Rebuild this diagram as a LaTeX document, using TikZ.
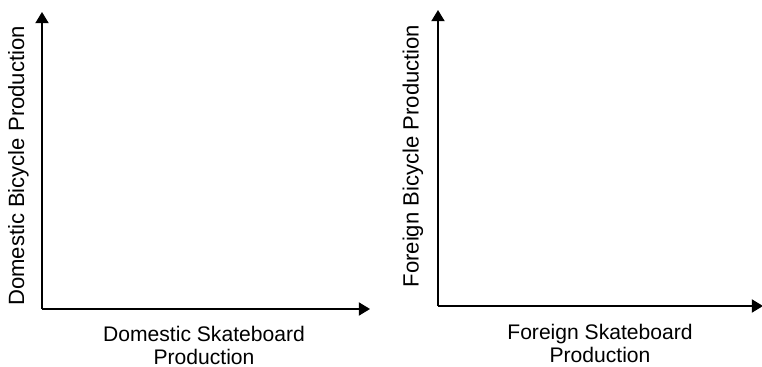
\documentclass[tikz,border=0pt]{standalone}
\usepackage{fontspec}
\setmainfont{Liberation Sans}
\usetikzlibrary{arrows}
\usetikzlibrary{arrows.meta}

\begin{document}
\begin{tikzpicture}[x=0.025cm,y=-0.025cm]
\tikzset{>={Triangle[width=3.3mm,length=2.8mm]}}
\tikzstyle{axis} =[->,line width=1pt]
\tikzstyle{lab} =[font=\fontsize{15}{16.5}\selectfont,align=center,inner sep=0pt]
\tikzstyle{vlab} =[font=\fontsize{15.7}{17}\selectfont,rotate=90,inner sep=0pt]

\useasboundingbox (0,0) rectangle (762,367);

% domestic
\coordinate (o1) at (42,309);
\coordinate (y1) at (42,12);
\coordinate (x1) at (370,309);
\draw [axis] (o1) -- (y1);
\draw [axis] (o1) -- (x1);
\node[vlab](ly1) at (18.5,166){Domestic Bicycle Production};
\node[lab](lx1) at (204,345.5){Domestic Skateboard\\Production};

% foreign
\coordinate (o2) at (438,306);
\coordinate (y2) at (438,10);
\coordinate (x2) at (763,306);
\draw [axis] (o2) -- (y2);
\draw [axis] (o2) -- (x2);
\node[vlab](ly2) at (413,156){Foreign Bicycle Production};
\node[lab](lx2) at (600,343.5){Foreign Skateboard\\Production};
\end{tikzpicture}
\end{document}
